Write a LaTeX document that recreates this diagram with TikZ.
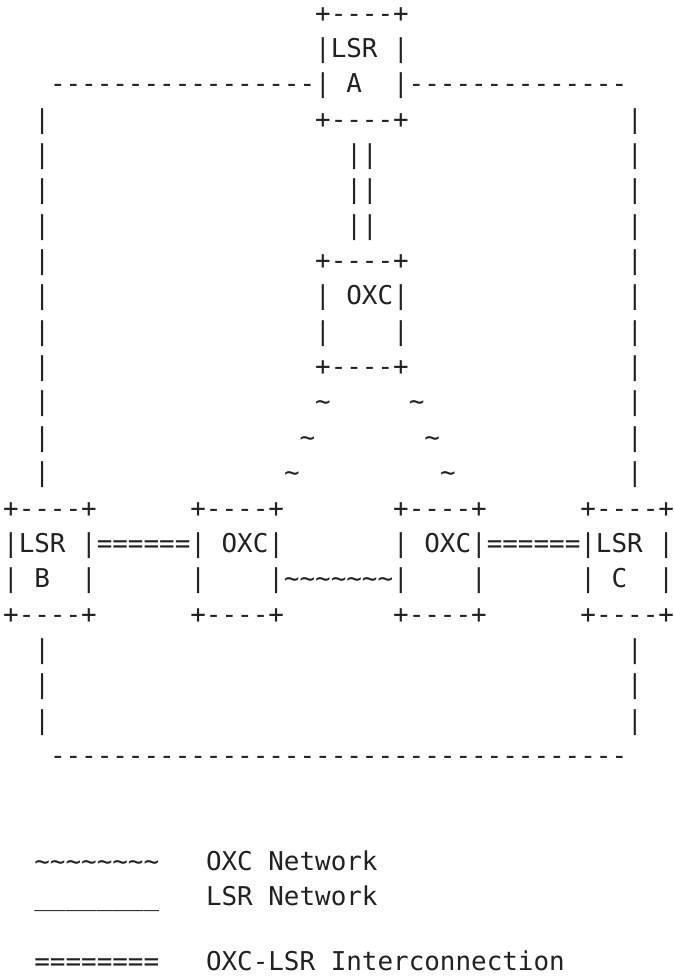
\documentclass[tikz,border=0pt]{standalone}
\usepackage{fontspec}
\setmonofont{DejaVu Sans Mono}
\definecolor{ink}{RGB}{34,34,34}
\newcommand\wv{\textasciitilde}
\begin{document}
\begin{tikzpicture}[x=15.6pt,y=-35.35pt,
  ascii/.style={anchor=base west,inner sep=0pt,outer sep=0pt,text=ink,
    font=\ttfamily\fontsize{25.91pt}{30pt}\selectfont}]
\fill[white] (0pt,0pt) rectangle (674pt,-978pt);
\useasboundingbox (0pt,0pt) rectangle (674pt,-978pt);
% grid: x = column, y = text row (baseline)
\begin{scope}[shift={(3.2pt,13.25pt)}]
  % LSR A
  \node[ascii] (a1) at (20,1) {+----+};
  \node[ascii] (a2) at (20,2) {|LSR\ |};
  \node[ascii] (a3) at (3,3) {-----------------|\ A\ \ |--------------};
  \node[ascii] (a4) at (20,4) {+----+};
  % LSR ring, left and right sides
  \foreach \r in {4,...,14,19,20,21}{
    \node[ascii] (l\r) at (2,\r) {|};
    \node[ascii] (r\r) at (40,\r) {|};
  }
  % LSR A to top OXC
  \foreach \r in {5,6,7}{ \node[ascii] (v\r) at (22,\r) {||}; }
  % top OXC
  \node[ascii] (o8) at (20,8) {+----+};
  \node[ascii] (o9) at (20,9) {|\ OXC|};
  \node[ascii] (o10) at (20,10) {|\ \ \ \ |};
  \node[ascii] (o11) at (20,11) {+----+};
  % OXC links fanning out
  \node[ascii] (t12a) at (20,12) {\wv};
  \node[ascii] (t12b) at (26,12) {\wv};
  \node[ascii] (t13a) at (19,13) {\wv};
  \node[ascii] (t13b) at (27,13) {\wv};
  \node[ascii] (t14a) at (18,14) {\wv};
  \node[ascii] (t14b) at (28,14) {\wv};
  % bottom row of boxes
  \foreach \r in {15,18}{
    \node[ascii] (b\r) at (0,\r) {+----+};
    \node[ascii] (ox\r) at (12,\r) {+----+};
    \node[ascii] (oy\r) at (25,\r) {+----+};
    \node[ascii] (c\r) at (37,\r) {+----+};
  }
  \node[ascii] (row16a) at (0,16) {|LSR\ |======|\ OXC|};
  \node[ascii] (row16b) at (25,16) {|\ OXC|======|LSR\ |};
  \node[ascii] (b17) at (0,17) {|\ B\ \ |};
  \node[ascii] (ox17) at (12,17) {|\ \ \ \ |\wv\wv\wv\wv\wv\wv\wv|\ \ \ \ |};
  \node[ascii] (c17) at (37,17) {|\ C\ \ |};
  % bottom of the LSR ring
  \node[ascii] (ring) at (3,22) {-------------------------------------};
  % legend
  \node[ascii] (k1) at (2,25) {\wv\wv\wv\wv\wv\wv\wv\wv};
  \node[ascii] (d1) at (13,25) {OXC Network};
  \node[ascii] (k2) at (2,26) {\_\_\_\_\_\_\_\_};
  \node[ascii] (d2) at (13,26) {LSR Network};
  \node[ascii] (k3) at (2,27.83) {========};
  \node[ascii] (d3) at (13,27.83) {OXC-LSR Interconnection};
\end{scope}
\end{tikzpicture}
\end{document}
